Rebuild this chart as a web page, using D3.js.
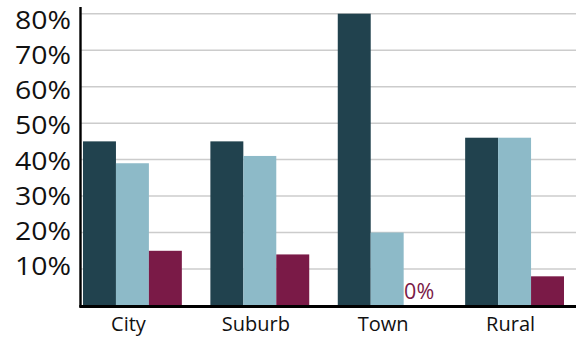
<!DOCTYPE html>
<html>
<head>
<meta charset="utf-8">
<script src="https://cdn.jsdelivr.net/npm/d3@7"></script>
<style>
html,body{margin:0;padding:0;background:#fff;}
svg{display:block;}
</style>
</head>
<body>
<svg id="chart" width="576" height="339"></svg>
<script>
const categories = ["City", "Suburb", "Town", "Rural"];
const seriesNames = ["A", "B", "C"];
const seriesA = [45, 45, 80, 46];
const seriesB = [39, 41, 20, 46];
const seriesC = [15, 14, 0, 8];
const yTicks = [10, 20, 30, 40, 50, 60, 70, 80];
const colors = ["#21424e", "#8dbac8", "#7a1a47"];

const series = [seriesA, seriesB, seriesC];
const svg = d3.select("#chart");
const font = "'Open Sans', sans-serif";

const y = d3.scaleLinear().domain([0, 80]).range([305.5, 13.7]);
// tick labels are laid out on a slightly tighter scale than the gridlines
const yLabel = d3.scaleLinear().domain([10, 80]).range([265.8, 19]);
const x0 = d3.scaleBand().domain(categories).range([83, 564]).paddingInner(0.224).paddingOuter(0);
const x1 = d3.scaleBand().domain(seriesNames).range([0, x0.bandwidth()]).padding(0);

// gridlines
svg.append("g")
  .selectAll("line").data(yTicks).join("line")
  .attr("x1", 81).attr("x2", 576)
  .attr("y1", d => y(d)).attr("y2", d => y(d))
  .attr("stroke", "#cccccc").attr("stroke-width", 1.5);

// bars
const groups = svg.append("g").selectAll("g").data(categories).join("g")
  .attr("transform", c => `translate(${x0(c)},0)`);
groups.selectAll("rect")
  .data((c, i) => seriesNames.map((s, j) => ({s, v: series[j][i], j})))
  .join("rect")
  .attr("x", d => x1(d.s))
  .attr("width", x1.bandwidth())
  .attr("y", d => y(d.v))
  .attr("height", d => y(0) - y(d.v))
  .attr("fill", d => colors[d.j]);

// zero label
groups.selectAll("text.zero")
  .data((c, i) => seriesNames.map((s, j) => ({s, v: series[j][i], j})).filter(d => d.v === 0))
  .join("text")
  .attr("class", "zero")
  .attr("x", d => x1(d.s) + x1.bandwidth() / 2 - 1)
  .attr("y", y(0) - 6.3)
  .attr("text-anchor", "middle")
  .attr("font-family", font)
  .attr("font-size", 21.5)
  .attr("fill", colors[2])
  .text(d => d.v + "%");

// y axis labels
const yAxis = d3.axisLeft(yLabel).tickValues(yTicks).tickSize(0).tickPadding(9.5)
  .tickFormat(d => d + "%");
const gy = svg.append("g").attr("transform", "translate(80.5,0)").call(yAxis);
gy.select(".domain").remove();
gy.selectAll("text").attr("font-family", font).attr("font-size", 25.5).attr("fill", "#111")
  .attr("dy", "0.36em")
  .attr("textLength", 56).attr("lengthAdjust", "spacingAndGlyphs");
svg.append("line").attr("x1", 80.5).attr("x2", 80.5).attr("y1", 7).attr("y2", 307)
  .attr("stroke", "#000").attr("stroke-width", 2.4);

// x axis
const xAxis = d3.axisBottom(x0).tickSize(0).tickPadding(11);
const gx = svg.append("g").attr("transform", `translate(0,${y(0)})`).call(xAxis);
gx.select(".domain").remove();
gx.selectAll("text").attr("font-family", font).attr("font-size", 20).attr("fill", "#111")
  .attr("dx", -4);
svg.append("line").attr("x1", 79.3).attr("x2", 576).attr("y1", y(0) + 1).attr("y2", y(0) + 1)
  .attr("stroke", "#000").attr("stroke-width", 3);
</script>
</body>
</html>
